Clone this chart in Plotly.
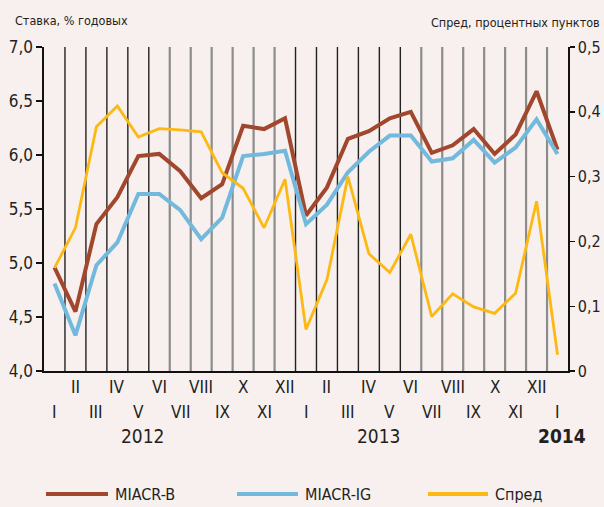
import plotly.graph_objects as go

# ---- data ----
month_labels = ["I", "II", "III", "IV", "V", "VI", "VII", "VIII", "IX", "X", "XI", "XII",
                "I", "II", "III", "IV", "V", "VI", "VII", "VIII", "IX", "X", "XI", "XII",
                "I"]
year_labels = ["2012", "2013", "<b>2014</b>"]
year_pos = [4.2, 15.5, 24.2]

miacr_b = [4.96, 4.55, 5.36, 5.61, 5.99, 6.01, 5.85, 5.60, 5.73, 6.27, 6.24, 6.34,
           5.44, 5.70, 6.15, 6.22, 6.34, 6.40, 6.02, 6.09, 6.24, 6.01, 6.19, 6.59, 6.05]
miacr_ig = [4.81, 4.33, 4.98, 5.19, 5.64, 5.64, 5.49, 5.22, 5.42, 5.99, 6.01, 6.04,
            5.36, 5.54, 5.84, 6.03, 6.18, 6.18, 5.94, 5.97, 6.14, 5.93, 6.07, 6.33, 6.01]
spread = [0.159, 0.221, 0.377, 0.409, 0.361, 0.374, 0.372, 0.369, 0.306, 0.282, 0.221, 0.296,
          0.064, 0.141, 0.300, 0.181, 0.152, 0.211, 0.084, 0.119, 0.099, 0.089, 0.120, 0.262, 0.025]

left_ticks = [4.0, 4.5, 5.0, 5.5, 6.0, 6.5, 7.0]
left_ticktext = ["4,0", "4,5", "5,0", "5,5", "6,0", "6,5", "7,0"]
right_ticks = [0, 0.1, 0.2, 0.3, 0.4, 0.5]
right_ticktext = ["0", "0,1", "0,2", "0,3", "0,4", "0,5"]

series_names = ["MIACR-B", "MIACR-IG", "Спред"]
colors = ["#a0472d", "#72b9dd", "#fdb913"]

FONT = "Liberation Sans Narrow, DejaVu Sans Condensed, Arial Narrow, sans-serif"
TXT = "#231f20"
BG = "#f7f0ee"

x = list(range(len(month_labels)))
n = len(month_labels)

fig = go.Figure()
fig.add_trace(go.Scatter(x=x, y=miacr_b, mode="lines", name=series_names[0],
                         line=dict(color=colors[0], width=4), yaxis="y"))
fig.add_trace(go.Scatter(x=x, y=miacr_ig, mode="lines", name=series_names[1],
                         line=dict(color=colors[1], width=4), yaxis="y"))
fig.add_trace(go.Scatter(x=x, y=spread, mode="lines", name=series_names[2],
                         line=dict(color=colors[2], width=2.8), yaxis="y2"))

shapes = []
# vertical separators between months
for k in range(1, n):
    dark = (1 <= k <= 5) or (12 <= k <= 17)
    shapes.append(dict(type="line", xref="x", yref="paper", x0=k - 0.5, x1=k - 0.5,
                       y0=0, y1=1, layer="below",
                       line=dict(color="#222222" if dark else "#8c8c8c",
                                 width=1.4 if dark else 2.2)))

annotations = []
# month labels, alternating rows
for i, lab in enumerate(month_labels):
    upper = (i % 2 == 1)
    annotations.append(dict(x=i, xref="x", y=0, yref="paper", text=lab, showarrow=False,
                            yanchor="middle", xanchor="center",
                            yshift=-16 if upper else -41,
                            font=dict(family=FONT, size=17, color=TXT)))
for yp, yl in zip(year_pos, year_labels):
    annotations.append(dict(x=yp, xref="x", y=0, yref="paper", text=yl, showarrow=False,
                            yanchor="middle", xanchor="center", yshift=-65,
                            font=dict(family=FONT, size=19, color=TXT)))

# axis titles
annotations.append(dict(x=0, xref="paper", y=1, yref="paper", text="Ставка, % годовых",
                        showarrow=False, xanchor="left", yanchor="middle", yshift=27, xshift=-31,
                        font=dict(family=FONT, size=12.5, color=TXT)))
annotations.append(dict(x=1, xref="paper", y=1, yref="paper", text="Спред, процентных пунктов",
                        showarrow=False, xanchor="right", yanchor="middle", yshift=25, xshift=34,
                        font=dict(family=FONT, size=12.5, color=TXT)))

# custom legend
plot_l, plot_w, plot_b, plot_h = 44, 524, 371, 324
leg_y_px = 494
leg_items_px = [(46, 108), (237, 298), (428, 488)]
for (x0p, x1p), nm, col in zip(leg_items_px, series_names, colors):
    yy = (plot_b - leg_y_px) / plot_h
    shapes.append(dict(type="line", xref="paper", yref="paper",
                       x0=(x0p - plot_l) / plot_w, x1=(x1p - plot_l) / plot_w,
                       y0=yy, y1=yy, line=dict(color=col, width=4)))
    annotations.append(dict(x=(x1p + 5 - plot_l) / plot_w, xref="paper", y=yy, yref="paper",
                            text=nm, showarrow=False, xanchor="left", yanchor="middle",
                            font=dict(family=FONT, size=16, color=TXT)))

fig.update_layout(
    width=604, height=507,
    autosize=False,
    margin=dict(l=44, r=36, t=47, b=136, autoexpand=False),
    paper_bgcolor=BG, plot_bgcolor=BG,
    showlegend=False,
    hovermode=False,
    xaxis=dict(range=[-0.5, n - 0.5], showgrid=False, zeroline=False,
               showticklabels=False, ticks="", showline=True, automargin=False,
               linecolor="#111111", linewidth=1.6),
    yaxis=dict(range=[4.0, 7.0], tickvals=left_ticks, ticktext=left_ticktext,
               showgrid=False, zeroline=False, showline=True, linecolor="#111111",
               linewidth=1.6, ticks="outside", ticklen=6, tickcolor="#111111",
               tickwidth=1.4, automargin=False,
               tickfont=dict(family=FONT, size=17, color=TXT)),
    yaxis2=dict(range=[0, 0.5], tickvals=right_ticks, ticktext=right_ticktext,
                overlaying="y", side="right", showgrid=False, zeroline=False,
                showline=True, linecolor="#111111", linewidth=1.6, automargin=False,
                ticks="outside", ticklen=5, tickcolor="#111111", tickwidth=1.4,
                ticklabelstandoff=0,
                tickfont=dict(family=FONT, size=16, color=TXT)),
    shapes=shapes,
    annotations=annotations,
)

fig.write_html(
    "out.html",
    config={"displayModeBar": False, "staticPlot": True},
    post_script="document.body.style.margin='0';document.body.style.padding='0';"
                "document.documentElement.style.overflow='hidden';"
                "document.body.style.background='" + BG + "';",
)
